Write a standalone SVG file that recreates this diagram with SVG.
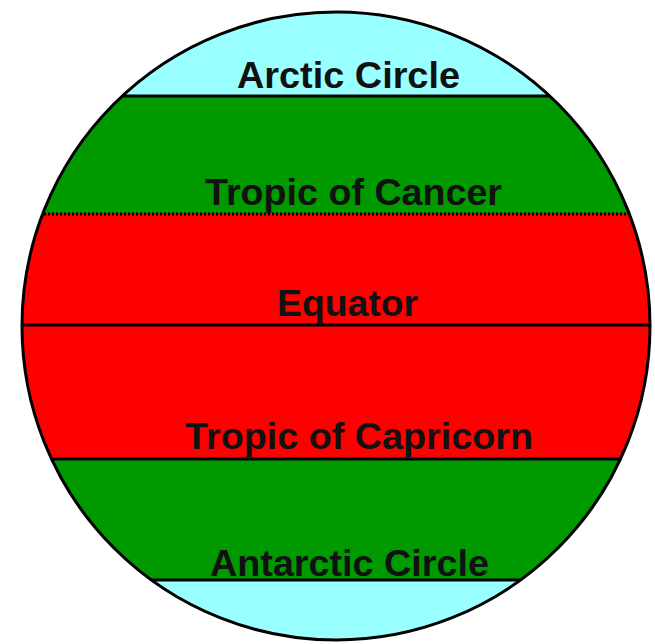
<svg xmlns="http://www.w3.org/2000/svg" width="655" height="644" viewBox="0 0 655 644">
<style>
.lbl{font-family:"Liberation Sans",Arial,sans-serif;font-weight:bold;font-size:36px;fill:#111;text-anchor:middle}
.ln{stroke:#000;stroke-width:3;fill:none}
</style>
<defs>
<clipPath id="globe"><circle cx="336" cy="326" r="314"/></clipPath>
</defs>
<rect width="655" height="644" fill="#fff"/>
<g id="globe-bands" clip-path="url(#globe)">
<rect x="0" y="0" width="655" height="96" fill="#99ffff"/>
<rect x="0" y="96" width="655" height="117" fill="#009900"/>
<rect x="0" y="213" width="655" height="246" fill="#ff0000"/>
<rect x="0" y="459" width="655" height="121" fill="#009900"/>
<rect x="0" y="580" width="655" height="70" fill="#99ffff"/>
</g>
<g id="lines" clip-path="url(#globe)">
<line class="ln" x1="0" y1="96" x2="655" y2="96"/>
<line class="ln" x1="0" y1="214" x2="655" y2="214" stroke-dasharray="2 2"/>
<line class="ln" x1="0" y1="325" x2="655" y2="325"/>
<line class="ln" x1="0" y1="459" x2="655" y2="459"/>
<line class="ln" x1="0" y1="580" x2="655" y2="580"/>
</g>
<circle id="outline" cx="336" cy="326" r="314" fill="none" stroke="#000" stroke-width="3"/>
<g id="arctic"><text class="lbl" x="348.5" y="88" textLength="223" lengthAdjust="spacingAndGlyphs">Arctic Circle</text></g>
<g id="cancer"><text class="lbl" x="353.5" y="205" textLength="297" lengthAdjust="spacingAndGlyphs">Tropic of Cancer</text></g>
<g id="equator"><text class="lbl" x="347.5" y="316" textLength="141" lengthAdjust="spacingAndGlyphs">Equator</text></g>
<g id="capricorn"><text class="lbl" x="359" y="449" textLength="348" lengthAdjust="spacingAndGlyphs">Tropic of Capricorn</text></g>
<g id="antarctic"><text class="lbl" x="349.5" y="576" textLength="279" lengthAdjust="spacingAndGlyphs">Antarctic Circle</text></g>
</svg>
